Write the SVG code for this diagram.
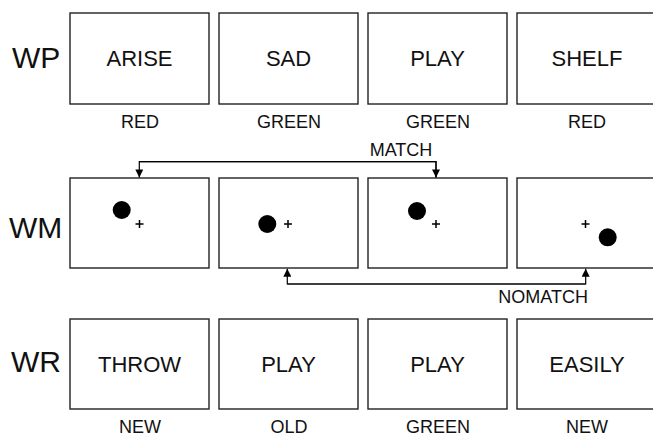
<svg xmlns="http://www.w3.org/2000/svg" width="653" height="435" viewBox="0 0 653 435">
<defs>
<style>
.box{fill:#fff;stroke:#222;stroke-width:1.4}
.w{font-family:"Liberation Sans",Arial,sans-serif;font-size:22px;fill:#111;text-anchor:middle}
.l{font-family:"Liberation Sans",Arial,sans-serif;font-size:18px;fill:#111;text-anchor:middle}
.row{font-family:"Liberation Sans",Arial,sans-serif;font-size:30px;fill:#111}
.dot{fill:#000}
.plus{stroke:#000;stroke-width:1.5}
.conn{fill:none;stroke:#000;stroke-width:1.2}
</style>
<marker id="ah" viewBox="0 0 10 10" refX="10" refY="5" markerWidth="10" markerHeight="8" markerUnits="userSpaceOnUse" orient="auto">
<path d="M0,0 L10,5 L0,10 z" fill="#000"/>
</marker>
</defs>
<rect width="653" height="435" fill="#fff"/>

<g id="row-labels">
<text class="row" x="12" y="68">WP</text>
<text class="row" x="9" y="238">WM</text>
<text class="row" x="11" y="372">WR</text>
</g>

<g id="wp1"><rect class="box" x="70" y="13" width="139" height="91"/><text class="w" x="139.5" y="65.5">ARISE</text><text class="l" x="140" y="128">RED</text></g>
<g id="wp2"><rect class="box" x="219" y="13" width="139" height="91"/><text class="w" x="288.5" y="65.5">SAD</text><text class="l" x="289" y="128">GREEN</text></g>
<g id="wp3"><rect class="box" x="368" y="13" width="139" height="91"/><text class="w" x="437.5" y="65.5">PLAY</text><text class="l" x="438" y="128">GREEN</text></g>
<g id="wp4"><rect class="box" x="517" y="13" width="139" height="91"/><text class="w" x="587" y="65.5">SHELF</text><text class="l" x="587" y="128">RED</text></g>

<g id="wm1"><rect class="box" x="70" y="178" width="139" height="90"/><circle class="dot" cx="121.7" cy="210" r="9"/><path class="plus" d="M135.5,224 h8 M139.5,220 v8"/></g>
<g id="wm2"><rect class="box" x="219" y="178" width="139" height="90"/><circle class="dot" cx="267.3" cy="224" r="9"/><path class="plus" d="M284,224 h8 M288,220 v8"/></g>
<g id="wm3"><rect class="box" x="368" y="178" width="139" height="90"/><circle class="dot" cx="417" cy="211" r="9"/><path class="plus" d="M432,224 h8 M436,220 v8"/></g>
<g id="wm4"><rect class="box" x="517" y="178" width="139" height="90"/><path class="plus" d="M581.5,224 h8 M585.5,220 v8"/><circle class="dot" cx="607.7" cy="237.3" r="9"/></g>

<g id="wr1"><rect class="box" x="70" y="319" width="139" height="90"/><text class="w" x="139.5" y="371.5">THROW</text><text class="l" x="140" y="433">NEW</text></g>
<g id="wr2"><rect class="box" x="219" y="319" width="139" height="90"/><text class="w" x="288.5" y="371.5">PLAY</text><text class="l" x="289" y="433">OLD</text></g>
<g id="wr3"><rect class="box" x="368" y="319" width="139" height="90"/><text class="w" x="437.5" y="371.5">PLAY</text><text class="l" x="438" y="433">GREEN</text></g>
<g id="wr4"><rect class="box" x="517" y="319" width="139" height="90"/><text class="w" x="587" y="371.5">EASILY</text><text class="l" x="587" y="433">NEW</text></g>

<g id="connectors">
<path class="conn" d="M436,177.5 V161.7 H139.3 V177.5" marker-end="url(#ah)"/>
<path class="conn" d="M139.3,161.7 H436 V177.5" marker-end="url(#ah)"/>
<text class="l" x="401" y="156">MATCH</text>
<path class="conn" d="M585.7,284 H287.3 V268.7" marker-end="url(#ah)"/>
<path class="conn" d="M287.3,284 H585.7 V268.7" marker-end="url(#ah)"/>
<text class="l" x="588" y="302.7" style="text-anchor:end">NOMATCH</text>
</g>
</svg>
